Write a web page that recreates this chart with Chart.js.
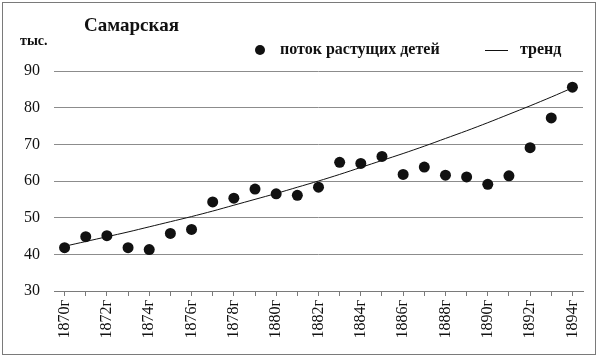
<!DOCTYPE html>
<html>
<head>
<meta charset="utf-8">
<script src="https://cdn.jsdelivr.net/npm/chart.js@4"></script>
<style>
    body { margin: 0; background: #fff; }
    canvas { display: block; }
</style>
</head>
<body>
<canvas id="chart" width="600" height="358"></canvas>
<script>
// Years on the x axis
const years = ["1870г", "1871г", "1872г", "1873г", "1874г", "1875г", "1876г", "1877г", "1878г",
    "1879г", "1880г", "1881г", "1882г", "1883г", "1884г", "1885г", "1886г", "1887г", "1888г",
    "1889г", "1890г", "1891г", "1892г", "1893г", "1894г"];

// Flow of growing children, thousands
const childrenFlow = [41.8, 44.8, 45.1, 41.8, 41.3, 45.7, 46.8, 54.3, 55.3, 57.8, 56.5, 56.1, 58.3,
    65.1, 64.8, 66.7, 61.8, 63.8, 61.6, 61.1, 59.1, 61.4, 69.1, 77.2, 85.6];

// Trend line
const trend = [42.2, 43.5, 44.8, 46.1, 47.5, 48.9, 50.3, 51.8, 53.4, 55.0, 56.6, 58.3, 60.0,
    61.8, 63.7, 65.6, 67.5, 69.5, 71.6, 73.7, 75.9, 78.2, 80.5, 82.9, 85.4];

// Y axis range
const yMin = 30;
const yMax = 90;
const yStep = 10;

const titleText = "Самарская";
const unitText = "тыс.";
const seriesNames = ["поток растущих детей", "тренд"];

const serif = "'Liberation Serif', 'DejaVu Serif', serif";

// Draws the frame, title, unit label and legend
const decorations = {
    id: "decorations",
    beforeDraw(chart) {
        const ctx = chart.ctx;
        ctx.save();
        ctx.fillStyle = "#fff";
        ctx.fillRect(0, 0, chart.width, chart.height);
        ctx.strokeStyle = "#7a7a7a";
        ctx.lineWidth = 1;
        ctx.strokeRect(2.5, 2.5, 593, 352);
        ctx.restore();
    },
    afterDraw(chart) {
        const ctx = chart.ctx;
        ctx.save();
        ctx.fillStyle = "#111";
        ctx.textBaseline = "middle";
        ctx.textAlign = "left";

        ctx.font = "bold 19px " + serif;
        ctx.fillText(titleText, 84, 26);

        ctx.font = "bold 14px " + serif;
        ctx.fillText(unitText, 20, 41);

        // legend: dot series
        ctx.beginPath();
        ctx.arc(260, 50, 5, 0, Math.PI * 2);
        ctx.fill();
        ctx.font = "bold 16px " + serif;
        ctx.fillText(seriesNames[0], 280, 50);

        // legend: trend line
        ctx.strokeStyle = "#111";
        ctx.lineWidth = 1;
        ctx.beginPath();
        ctx.moveTo(485, 50.5);
        ctx.lineTo(508, 50.5);
        ctx.stroke();
        ctx.fillText(seriesNames[1], 520, 50);
        ctx.restore();
    }
};

new Chart(document.getElementById("chart"), {
    type: "line",
    data: {
        labels: years,
        datasets: [
            {
                label: seriesNames[0],
                data: childrenFlow,
                showLine: false,
                pointRadius: 5.5,
                pointBackgroundColor: "#111",
                pointBorderWidth: 0,
                order: 1
            },
            {
                label: seriesNames[1],
                data: trend,
                borderColor: "#111",
                borderWidth: 1,
                pointRadius: 0,
                tension: 0.3,
                order: 2
            }
        ]
    },
    options: {
        responsive: false,
        animation: false,
        layout: {
            padding: { left: 0, right: 17, top: 71, bottom: 0 }
        },
        plugins: {
            legend: { display: false },
            tooltip: { enabled: false }
        },
        scales: {
            x: {
                offset: true,
                afterFit: (scale) => { scale.height = 67; },
                grid: {
                    drawOnChartArea: false,
                    drawTicks: true,
                    tickLength: 5,
                    color: "#7a7a7a"
                },
                border: { display: true, color: "#7a7a7a", width: 1 },
                ticks: {
                    autoSkip: false,
                    minRotation: 90,
                    maxRotation: 90,
                    padding: 4,
                    color: "#111",
                    font: { family: serif, size: 16 },
                    callback: function(value, index) {
                        return index % 2 === 0 ? years[index] : "";
                    }
                }
            },
            y: {
                min: yMin,
                max: yMax,
                afterFit: (scale) => { scale.width = 54; },
                grid: {
                    drawTicks: false,
                    color: "#8c8c8c",
                    lineWidth: 1
                },
                border: { display: false },
                ticks: {
                    stepSize: yStep,
                    padding: 14,
                    color: "#111",
                    font: { family: serif, size: 16 }
                }
            }
        }
    },
    plugins: [decorations]
});
</script>
</body>
</html>
